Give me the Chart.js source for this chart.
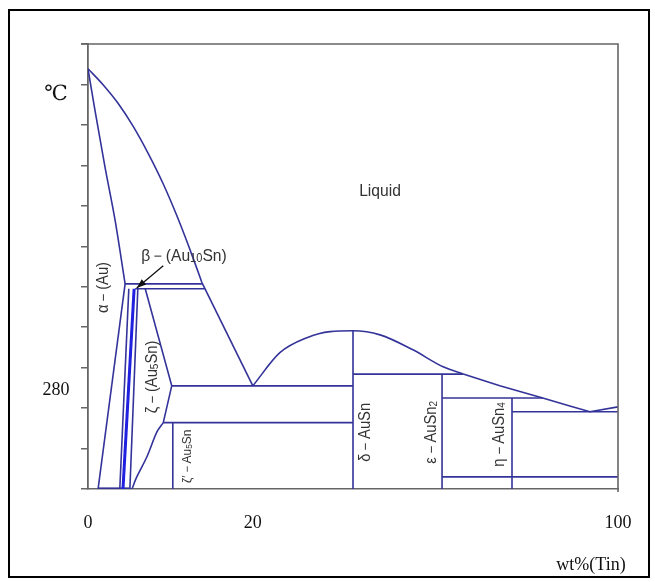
<!DOCTYPE html>
<html>
<head>
<meta charset="utf-8">
<script src="https://cdn.jsdelivr.net/npm/chart.js@4.4.1/dist/chart.umd.min.js"></script>
<style>
  html, body { margin: 0; padding: 0; background: #fff; }
  canvas { display: block; }
</style>
</head>
<body>
<canvas id="phaseCanvas" width="655" height="582"></canvas>
<script>
// composition as drawn (at% Sn along the axis), temperature in degC
const liquidusAuSide = [[0, 1064], [2.8, 1025], [5.7, 978], [8.5, 922], [11.3, 856], [14.2, 779], [17.0, 693], [19.8, 597], [21.5, 535]];
const liquidusToEutectic = [[21.5, 535], [31.1, 280]];
const deltaDome = [[31.1, 280], [36.2, 362], [41.3, 399], [45.7, 414], [50, 416], [55.1, 406], [61.3, 369], [67, 327], [70.8, 309]];
const liquidusSnSide = [[70.8, 309], [77.7, 280], [85.8, 250], [90.9, 230], [94.7, 216], [100, 228]];
const solidusAlpha = [[0, 1064], [1.3, 962], [3.2, 821], [5.1, 690], [7.0, 532]];
const solvusAlpha = [[7.0, 532], [1.9, 25]];
const betaLeft = [[7.7, 520], [6.0, 25]];
const betaRight = [[8.7, 520], [6.6, 25]];
const zetaLeft = [[9.4, 520], [7.9, 25]];
const zetaRight = [[10.8, 520], [15.8, 280], [14.2, 189]];
const zetaLower = [[14.2, 189], [13.0, 166], [11.1, 104], [9.2, 55], [8.3, 25]];

// horizontal reaction lines
const isothermT = [532, 520, 280, 189, 309, 250, 216, 55, 27];
const isothermFrom = [7.0, 8.9, 15.8, 14.2, 50, 66.8, 80, 66.8, 1.9];
const isothermTo = [21.5, 22.1, 50, 50, 70.8, 85.8, 100, 100, 7.9];

// compounds (vertical lines)
const compoundX = [16.0, 50, 66.8, 80];
const compoundTop = [189, 416, 309, 250];

const tMin = 25;
const tMax = 1125;
const xTickValues = [0, 31.1, 100];
const xTickLabels = ['0', '20', '100'];

const lineColor = '#33339a';
const pts = arr => arr.map(p => ({ x: p[0], y: p[1] }));

const datasets = [];
function addLine(data, opts) {
  datasets.push(Object.assign({
    data: pts(data),
    showLine: true,
    borderColor: lineColor,
    borderWidth: 1.6,
    pointRadius: 0,
    fill: false,
    tension: 0
  }, opts || {}));
}

addLine(liquidusAuSide, { cubicInterpolationMode: 'monotone' });
addLine(liquidusToEutectic);
addLine(deltaDome, { cubicInterpolationMode: 'monotone' });
addLine(liquidusSnSide);
addLine(solidusAlpha, { cubicInterpolationMode: 'monotone' });
addLine(solvusAlpha);
addLine(betaLeft);
addLine(betaRight, { borderColor: '#2020e0', borderWidth: 3 });
addLine(zetaLeft);
addLine(zetaRight);
addLine(zetaLower, { tension: 0.3 });
isothermT.forEach((t, i) => addLine([[isothermFrom[i], t], [isothermTo[i], t]]));
compoundX.forEach((x, i) => addLine([[x, compoundTop[i]], [x, tMin]]));

// phase labels: [parts, x, T, rotated, size]
const phaseLabels = [
  [[['α－(Au)', 0]], 3.0, 523, true, 16],
  [[['ζ－(Au', 0], ['5', 1], ['Sn)', 0]], 12.1, 302, true, 16],
  [[['ζ′－Au', 0], ['5', 1], ['Sn', 0]], 18.7, 106, true, 13],
  [[['δ－AuSn', 0]], 52.4, 165, true, 16],
  [[['ε－AuSn', 0], ['2', 1]], 64.9, 165, true, 16],
  [[['η－AuSn', 0], ['4', 1]], 77.7, 160, true, 16],
  [[['β－(Au', 0], ['10', 1], ['Sn)', 0]], 18.1, 600, false, 17],
  [[['Liquid', 0]], 55.1, 760, false, 17]
];

function drawParts(ctx, parts, cx, cy, rotated, size) {
  const big = size + 'px "Liberation Sans", Arial, sans-serif';
  const small = Math.round(size * 0.7) + 'px "Liberation Sans", Arial, sans-serif';
  let w = 0;
  parts.forEach(p => { ctx.font = p[1] ? small : big; w += ctx.measureText(p[0]).width; });
  ctx.save();
  ctx.translate(cx, cy);
  if (rotated) ctx.rotate(-Math.PI / 2);
  ctx.scale(0.92, 1);
  ctx.fillStyle = '#333';
  ctx.textBaseline = 'middle';
  ctx.textAlign = 'left';
  let x = -w / 2;
  parts.forEach(p => {
    ctx.font = p[1] ? small : big;
    ctx.fillText(p[0], x, p[1] ? size * 0.15 : 0);
    x += ctx.measureText(p[0]).width;
  });
  ctx.restore();
}

const decor = {
  id: 'decor',
  beforeDraw(chart) {
    const ctx = chart.ctx;
    ctx.save();
    ctx.fillStyle = '#fff';
    ctx.fillRect(0, 0, chart.width, chart.height);
    ctx.restore();
  },
  afterDraw(chart) {
    const { ctx, chartArea: a, scales: { x, y } } = chart;
    ctx.save();
    // outer frame
    ctx.strokeStyle = '#000';
    ctx.lineWidth = 2;
    ctx.strokeRect(9, 10, 640, 567);
    // top and right of plot box
    ctx.strokeStyle = '#666';
    ctx.lineWidth = 1.6;
    ctx.beginPath();
    ctx.moveTo(a.left - 7, a.top);
    ctx.lineTo(a.right, a.top);
    ctx.lineTo(a.right, a.bottom + 3);
    ctx.stroke();

    // arrow to beta phase
    const x0 = x.getPixelForValue(14.2), y0 = y.getPixelForValue(577);
    const x1 = x.getPixelForValue(9.2), y1 = y.getPixelForValue(522);
    const ang = Math.atan2(y1 - y0, x1 - x0);
    ctx.strokeStyle = '#111';
    ctx.fillStyle = '#111';
    ctx.lineWidth = 1.3;
    ctx.beginPath();
    ctx.moveTo(x0, y0);
    ctx.lineTo(x1, y1);
    ctx.stroke();
    ctx.beginPath();
    ctx.moveTo(x1, y1);
    ctx.lineTo(x1 - 10 * Math.cos(ang - 0.35), y1 - 10 * Math.sin(ang - 0.35));
    ctx.lineTo(x1 - 10 * Math.cos(ang + 0.35), y1 - 10 * Math.sin(ang + 0.35));
    ctx.closePath();
    ctx.fill();

    phaseLabels.forEach(l => drawParts(ctx, l[0], x.getPixelForValue(l[1]), y.getPixelForValue(l[2]), l[3], l[4]));

    // axis captions
    ctx.fillStyle = '#111';
    ctx.textAlign = 'center';
    ctx.textBaseline = 'middle';
    ctx.font = '21px "Liberation Serif", "DejaVu Serif", serif';
    ctx.fillText('℃', 56, 94);
    ctx.font = '18px "Liberation Serif", "Times New Roman", serif';
    ctx.fillText('280', 56, y.getPixelForValue(280) + 4);
    ctx.fillText('wt%(Tin)', 591, 565);
    ctx.restore();
  }
};

new Chart(document.getElementById('phaseCanvas').getContext('2d'), {
  type: 'scatter',
  data: { datasets: datasets },
  options: {
    responsive: false,
    animation: false,
    devicePixelRatio: 1,
    layout: { padding: { left: 0, top: 44, right: 37, bottom: 0 } },
    plugins: { legend: { display: false }, tooltip: { enabled: false } },
    scales: {
      x: {
        type: 'linear',
        min: 0,
        max: 100,
        afterFit: s => { s.height = 93; },
        afterBuildTicks: s => { s.ticks = xTickValues.map(v => ({ value: v })); },
        grid: { display: false, drawTicks: false },
        border: { display: true, color: '#666', width: 1.6 },
        ticks: {
          padding: 23,
          color: '#111',
          font: { family: '"Liberation Serif", "Times New Roman", serif', size: 18 },
          callback: v => xTickLabels[xTickValues.indexOf(v)]
        }
      },
      y: {
        type: 'linear',
        min: tMin,
        max: tMax,
        afterFit: s => { s.width = 88; },
        ticks: { display: false, stepSize: 100 },
        grid: { drawOnChartArea: false, drawTicks: true, tickLength: 7, color: '#666', lineWidth: 1.5 },
        border: { display: true, color: '#666', width: 1.8 }
      }
    }
  },
  plugins: [decor]
});
</script>
</body>
</html>
